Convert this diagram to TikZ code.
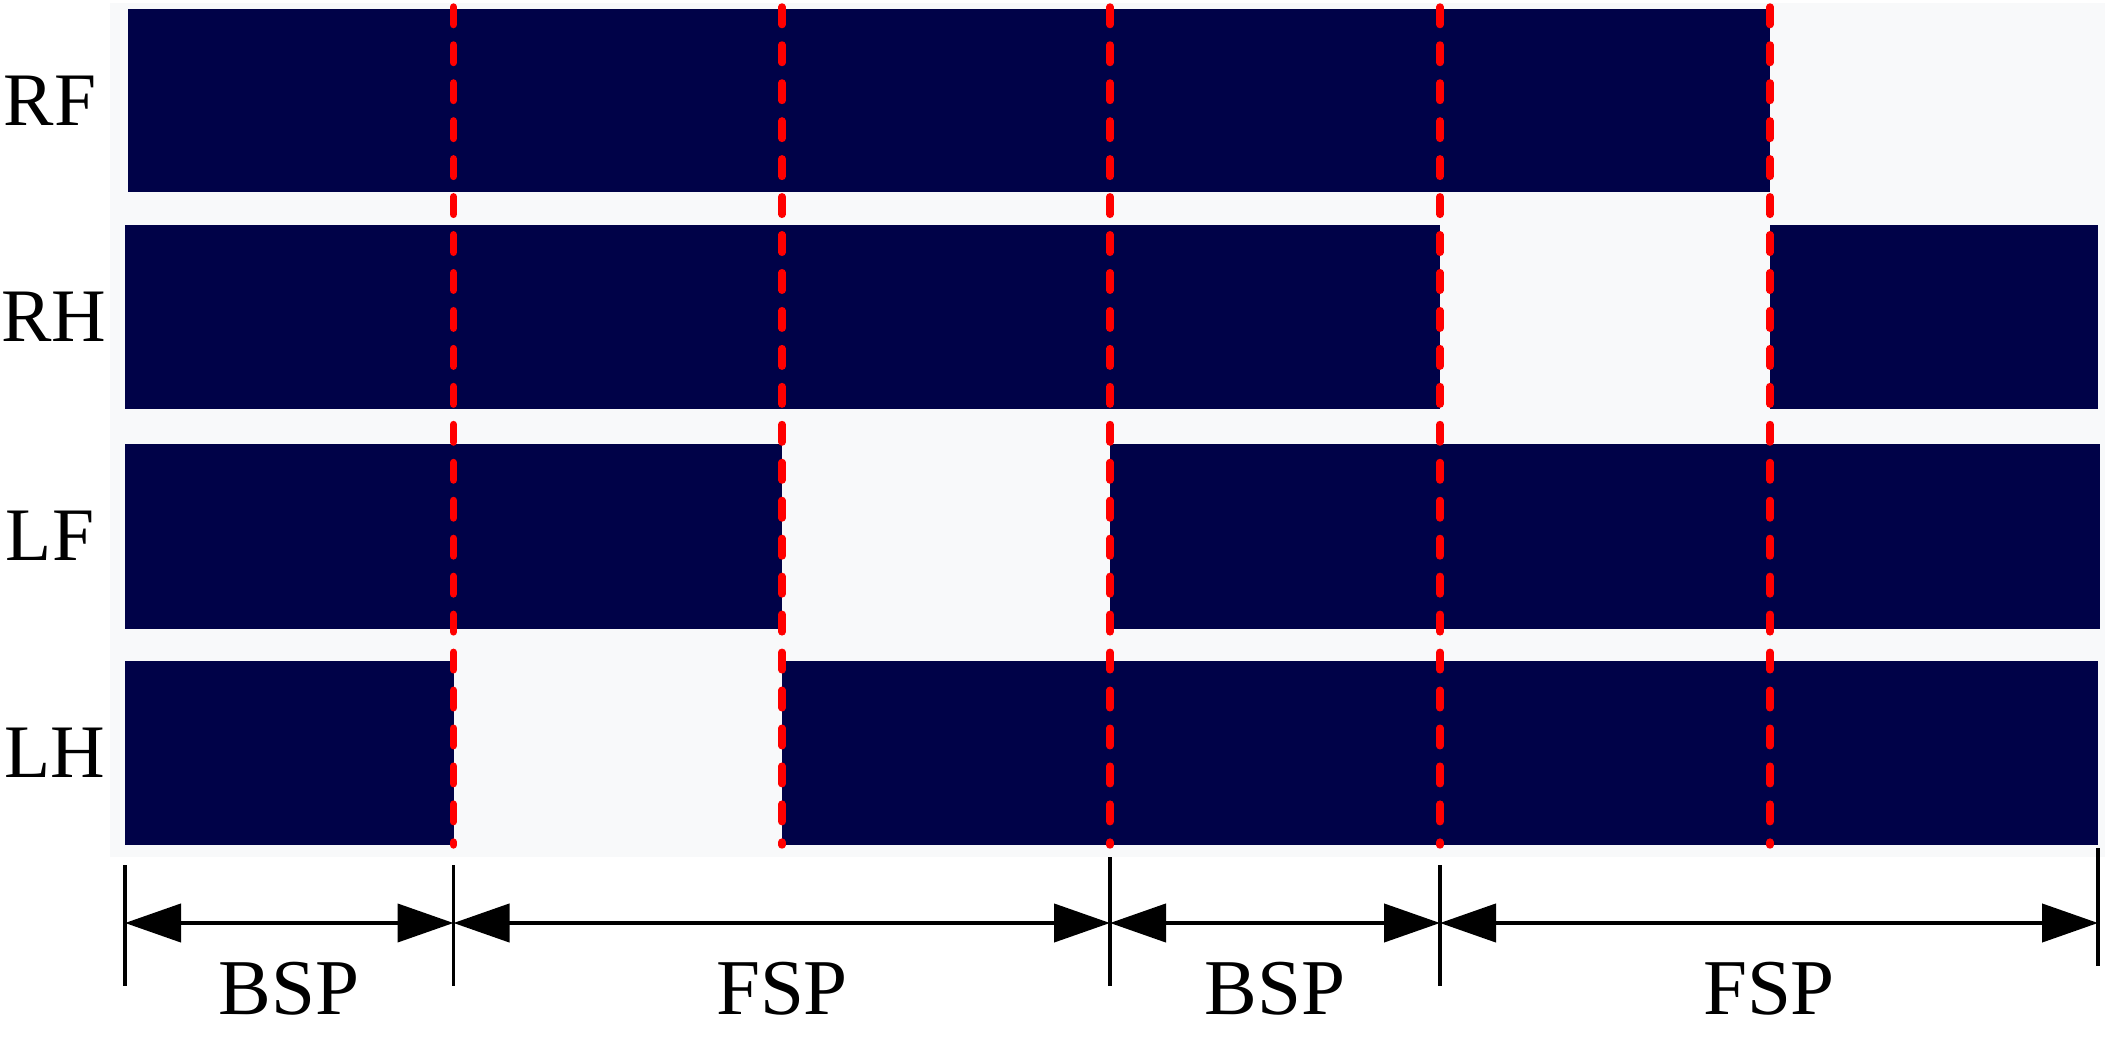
\documentclass[tikz,border=0pt]{standalone}
\usepackage{fontspec}
\setmainfont{Liberation Serif}
\usetikzlibrary{arrows.meta}
\definecolor{barnavy}{RGB}{0,2,72}
\definecolor{panelgray}{RGB}{248,249,250}

\begin{document}
\begin{tikzpicture}[
    rowlabel/.style={font=\fontsize{21.5}{25}\selectfont, inner sep=0pt},
    phaselabel/.style={font=\fontsize{22.5}{26}\selectfont, inner sep=0pt},
    stance/.style={fill=barnavy},
    phaseline/.style={red, line width=2.1pt, line cap=round, dash pattern=on 5pt off 5.8pt},
    tickline/.style={line width=1.1pt},
    dimarrow/.style={line width=1.2pt, {Triangle[length=0.56cm,width=0.38cm]}-{Triangle[length=0.56cm,width=0.38cm]}}
]

\useasboundingbox (0,0) rectangle (21.10,10.36);
\fill[panelgray] (1.10,1.79) rectangle (21.05,10.33);


\fill[stance] (1.28,8.44) rectangle (17.70,10.27);

\fill[stance] (1.25,6.27) rectangle (14.40,8.11);
\fill[stance] (17.70,6.27) rectangle (20.98,8.11);

\fill[stance] (1.25,4.07) rectangle (7.82,5.92);
\fill[stance] (11.10,4.07) rectangle (21.00,5.92);

\fill[stance] (1.25,1.91) rectangle (4.535,3.75);
\fill[stance] (7.82,1.91) rectangle (20.98,3.75);


\draw[phaseline] (4.535,10.29) -- (4.535,1.91);
\draw[phaseline] (7.82,10.29) -- (7.82,1.91);
\draw[phaseline] (11.10,10.29) -- (11.10,1.91);
\draw[phaseline] (14.40,10.29) -- (14.40,1.91);
\draw[phaseline] (17.70,10.29) -- (17.70,1.91);


\node[rowlabel] (rf) at (0.50,9.355) {RF};
\node[rowlabel] (rh) at (0.54,7.19) {RH};
\node[rowlabel] (lf) at (0.50,5.00) {LF};
\node[rowlabel] (lh) at (0.55,2.83) {LH};


\draw[tickline] (1.25,1.71) -- (1.25,0.50);
\draw[tickline] (4.535,1.71) -- (4.535,0.50);
\draw[tickline] (11.10,1.79) -- (11.10,0.50);
\draw[tickline] (14.40,1.71) -- (14.40,0.50);
\draw[tickline] (20.98,1.88) -- (20.98,0.70);

\coordinate (p0) at (1.25,1.13);
\coordinate (p1) at (4.535,1.13);
\coordinate (p2) at (11.10,1.13);
\coordinate (p3) at (14.40,1.13);
\coordinate (p4) at (20.98,1.13);

\draw[dimarrow] (p0) -- (p1);
\draw[dimarrow] (p1) -- (p2);
\draw[dimarrow] (p2) -- (p3);
\draw[dimarrow] (p3) -- (p4);

\node[phaselabel] (bsp1) at (2.89,0.47) {BSP};
\node[phaselabel] (fsp1) at (7.82,0.47) {FSP};
\node[phaselabel] (bsp2) at (12.75,0.47) {BSP};
\node[phaselabel] (fsp2) at (17.69,0.47) {FSP};

\end{tikzpicture}
\end{document}
